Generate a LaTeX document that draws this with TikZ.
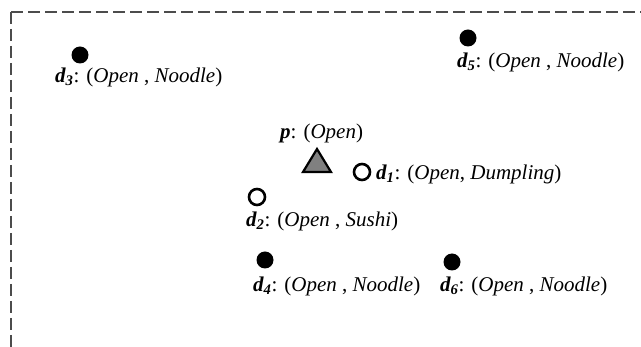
\documentclass[tikz,border=0pt]{standalone}
\usepackage{fontspec}
\setmainfont{Liberation Serif}
\tikzset{
  lbl/.style={anchor=west, inner sep=0pt, font=\fontsize{21}{24}\selectfont},
  fulldot/.style={circle, fill=black, minimum size=17pt, inner sep=0pt},
  opendot/.style={circle, draw=black, line width=2.6pt, fill=white, minimum size=16pt, inner sep=0pt},
  border/.style={draw=black!70, line width=1.4pt, dash pattern=on 12pt off 5pt},
  tri/.style={draw=black, line width=2.2pt, fill=black!50, line join=miter}
}
\newcommand{\dd}[1]{\textbf{\textit{d\textsubscript{#1}}}}
\begin{document}
\begin{tikzpicture}[x=1pt,y=-1pt]
\useasboundingbox (0,0) rectangle (641,347);
\begin{scope}
\clip (0,0) rectangle (641,347);
\draw[border] (11,12) -- (660,12);
\draw[border] (11,12) -- (11,370);
\end{scope}
% dots
\node[fulldot] (d3) at (80,55) {};
\node[lbl] (l3) at (55,77) {\dd{3}: (\textit{Open} , \textit{Noodle})};
\node[fulldot] (d5) at (468,38) {};
\node[lbl] (l5) at (457,62) {\dd{5}: (\textit{Open} , \textit{Noodle})};
\node[lbl] (lp) at (280,133) {\textbf{\textit{p}}: (\textit{Open})};
\coordinate (pc) at (317,162);
\draw[tri] (317,149) -- (331,172) -- (303,172) -- cycle;
\node[opendot] (d1) at (362,172) {};
\node[lbl] (l1) at (376,174) {\dd{1}: (\textit{Open}, \textit{Dumpling})};
\node[opendot] (d2) at (257,197) {};
\node[lbl] (l2) at (246,221) {\dd{2}: (\textit{Open} , \textit{Sushi})};
\node[fulldot] (d4) at (265,260) {};
\node[lbl] (l4) at (253,286) {\dd{4}: (\textit{Open} , \textit{Noodle})};
\node[fulldot] (d6) at (452,262) {};
\node[lbl] (l6) at (440,286) {\dd{6}: (\textit{Open} , \textit{Noodle})};
\end{tikzpicture}
\end{document}
